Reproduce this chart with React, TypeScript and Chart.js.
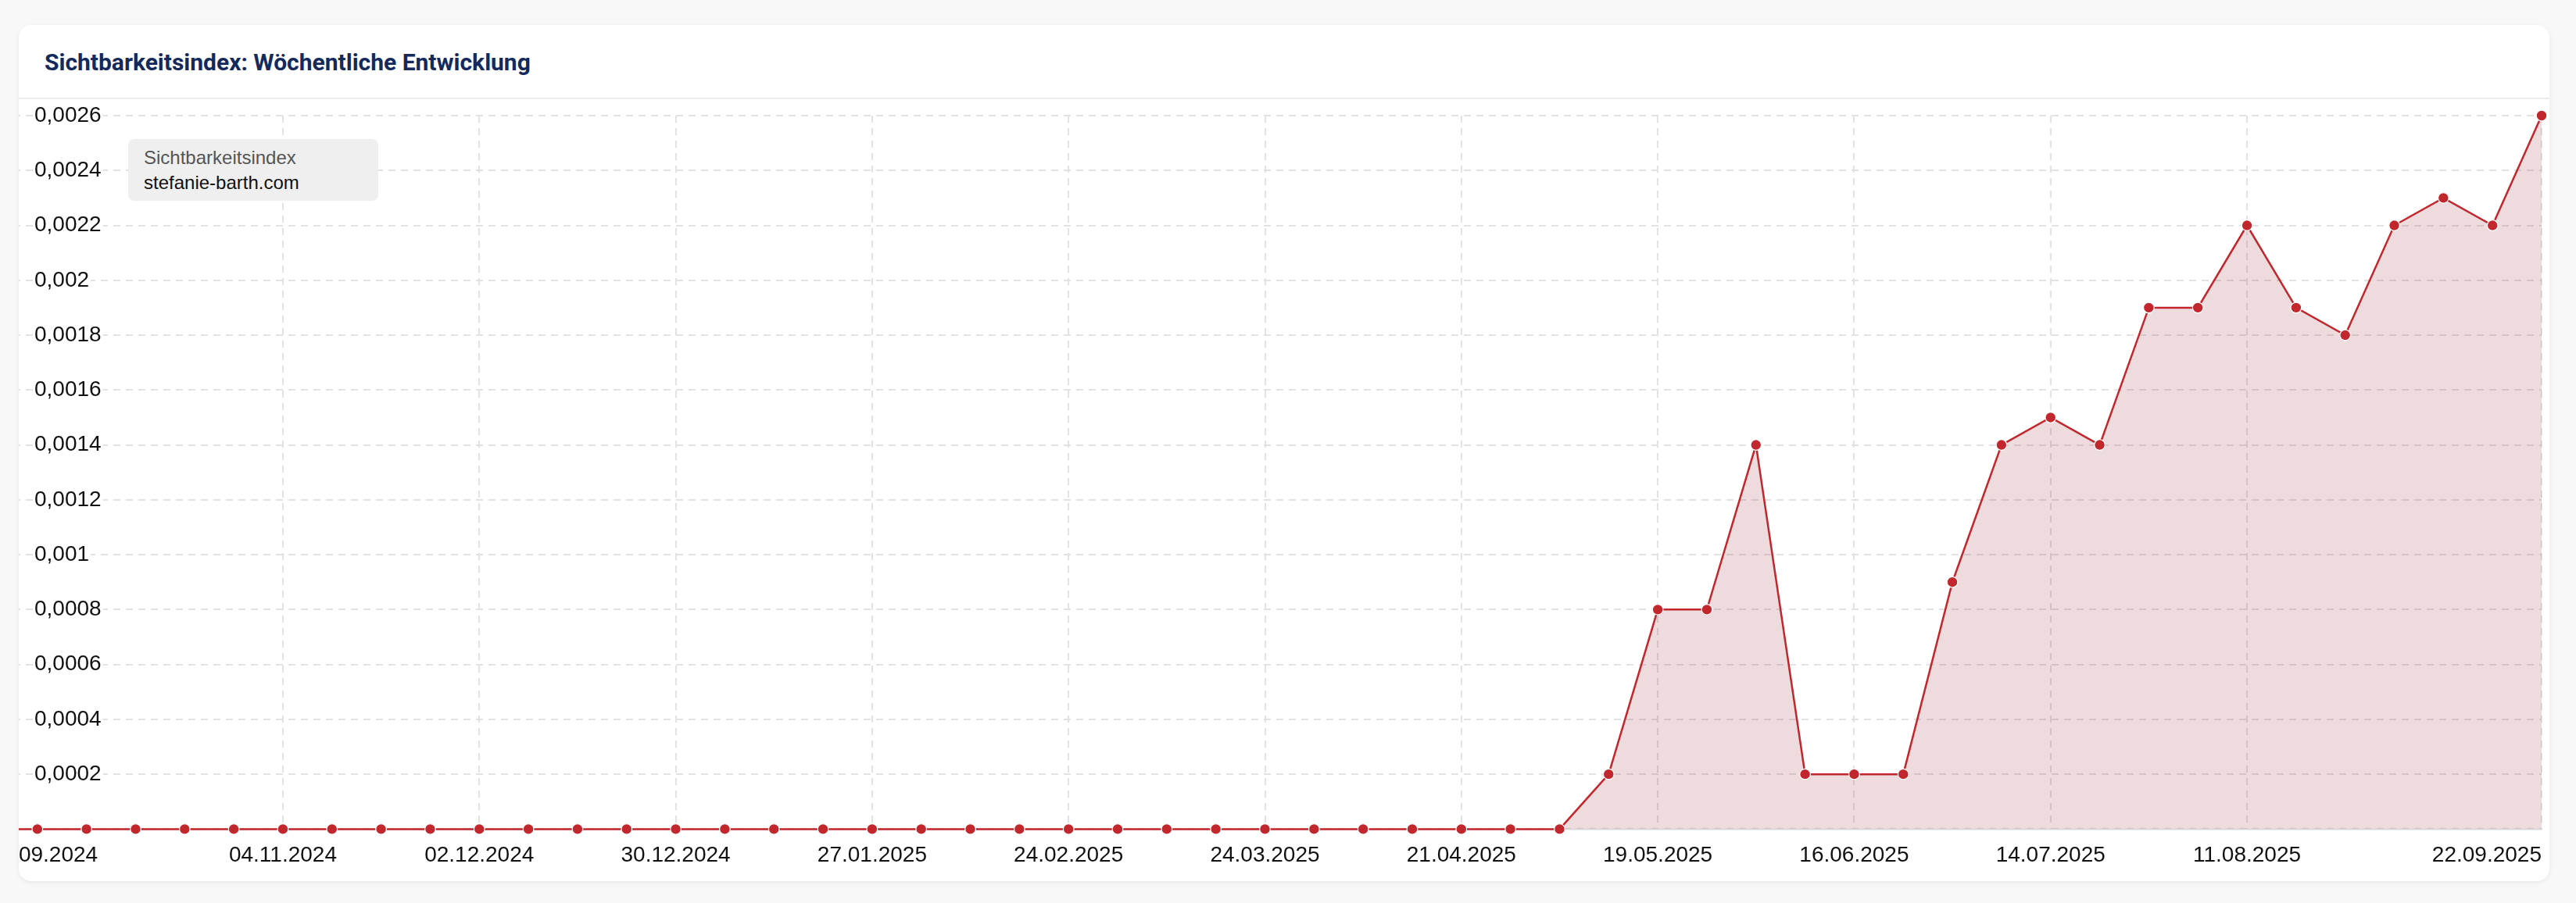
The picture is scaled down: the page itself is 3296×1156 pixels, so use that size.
import React, { useEffect, useRef } from 'react';
import { Chart, registerables } from 'chart.js';

Chart.register(...registerables);

// Weekly dates (Mondays). First and last entries lie just outside the visible card.
const WEEKS: string[] = [
  '23.09.2024', '30.09.2024', '07.10.2024', '14.10.2024', '21.10.2024', '28.10.2024',
  '04.11.2024', '11.11.2024', '18.11.2024', '25.11.2024', '02.12.2024', '09.12.2024',
  '16.12.2024', '23.12.2024', '30.12.2024', '06.01.2025', '13.01.2025', '20.01.2025',
  '27.01.2025', '03.02.2025', '10.02.2025', '17.02.2025', '24.02.2025', '03.03.2025',
  '10.03.2025', '17.03.2025', '24.03.2025', '31.03.2025', '07.04.2025', '14.04.2025',
  '21.04.2025', '28.04.2025', '05.05.2025', '12.05.2025', '19.05.2025', '26.05.2025',
  '02.06.2025', '09.06.2025', '16.06.2025', '23.06.2025', '30.06.2025', '07.07.2025',
  '14.07.2025', '21.07.2025', '28.07.2025', '04.08.2025', '11.08.2025', '18.08.2025',
  '25.08.2025', '01.09.2025', '08.09.2025', '15.09.2025', '22.09.2025', '29.09.2025',
];

const VISIBILITY: number[] = [
  0, 0, 0, 0, 0, 0,
  0, 0, 0, 0, 0, 0,
  0, 0, 0, 0, 0, 0,
  0, 0, 0, 0, 0, 0,
  0, 0, 0, 0, 0, 0,
  0, 0, 0, 0.0002, 0.0008, 0.0008,
  0.0014, 0.0002, 0.0002, 0.0002, 0.0009, 0.0014,
  0.0015, 0.0014, 0.0019, 0.0019, 0.0022, 0.0019,
  0.0018, 0.0022, 0.0023, 0.0022, 0.0026, 0.0026,
];

const SHOWN_LABELS: string[] = [
  '23.09.2024', '04.11.2024', '02.12.2024', '30.12.2024', '27.01.2025', '24.02.2025',
  '24.03.2025', '21.04.2025', '19.05.2025', '16.06.2025', '14.07.2025', '11.08.2025',
  '22.09.2025',
];
const LAST_LABEL = '22.09.2025';

const Y_MIN = 0;
const Y_MAX = 0.0026;
const Y_STEP = 0.0002;

const TITLE = 'Sichtbarkeitsindex: Wöchentliche Entwicklung';
const LEGEND_TITLE = 'Sichtbarkeitsindex';
const DOMAIN = 'stefanie-barth.com';

const RED = '#c1272d';
const FILL = 'rgba(140, 30, 45, 0.16)';
const GRID = '#e2e2e2';
const AXIS_FONT = '"Liberation Sans", Arial, Helvetica, sans-serif';

export default function App() {
  const canvasRef = useRef<HTMLCanvasElement | null>(null);

  useEffect(() => {
    const canvas = canvasRef.current;
    if (!canvas) return;
    const shown = new Set(SHOWN_LABELS);
    const chart = new Chart(canvas, {
      type: 'line',
      data: {
        labels: WEEKS,
        datasets: [
          {
            label: DOMAIN,
            data: VISIBILITY,
            borderColor: RED,
            borderWidth: 2.5,
            backgroundColor: FILL,
            fill: 'origin',
            tension: 0,
            pointRadius: 6.8,
            pointHoverRadius: 6.8,
            pointBackgroundColor: RED,
            pointBorderColor: '#ffffff',
            pointBorderWidth: 1.2,
            clip: false,
          } as any,
        ],
      },
      options: {
        responsive: false,
        animation: false,
        events: [],
        layout: { padding: { top: 20, right: 10, bottom: 0, left: 0 } },
        plugins: { legend: { display: false }, tooltip: { enabled: false } },
        scales: {
          x: {
            type: 'category',
            max: LAST_LABEL,
            grid: {
              color: (ctx: any) => {
                const l = WEEKS[ctx.index];
                return ctx.index > 0 && shown.has(l) ? GRID : 'rgba(0,0,0,0)';
              },
              lineWidth: 2,
              drawTicks: false,
            },
            border: { display: true, color: '#dadada', width: 1.5, dash: [9, 7] },
            ticks: {
              autoSkip: false,
              maxRotation: 0,
              minRotation: 0,
              align: 'inner',
              padding: 17,
              color: '#111111',
              font: { family: AXIS_FONT, size: 28 },
              callback: (value: any) => {
                const l = WEEKS[value as number];
                return shown.has(l) ? l : '';
              },
            },
            afterFit: (s: any) => {
              s.paddingLeft = 0;
              s.paddingRight = 0;
            },
          } as any,
          y: {
            min: Y_MIN,
            max: Y_MAX,
            position: 'left',
            grid: { color: GRID, lineWidth: 2, drawTicks: false },
            border: { display: false, dash: [9, 7] },
            ticks: {
              stepSize: Y_STEP,
              mirror: true,
              padding: 59,
              color: '#111111',
              font: { family: AXIS_FONT, size: 28 },
              showLabelBackdrop: (c: any) => !!c.tick && c.tick.value !== 0,
              backdropColor: '#ffffff',
              backdropPadding: 2,
              callback: (v: any) => {
                const n = Number(v);
                if (n === 0) return '';
                return n.toFixed(4).replace(/0+$/, '').replace('.', ',');
              },
            },
            afterFit: (s: any) => {
              s.width = 117;
              s.paddingTop = 0;
              s.paddingBottom = 0;
            },
          } as any,
        },
      },
    });
    return () => chart.destroy();
  }, []);

  return (
    <div
      style={{
        position: 'absolute',
        left: 0,
        top: 0,
        width: 3296,
        height: 1156,
        background: '#f8f8f8',
        overflow: 'hidden',
      }}
    >
      <div
        style={{
          position: 'absolute',
          left: 24,
          top: 32,
          width: 3238,
          height: 1096,
          background: '#ffffff',
          borderRadius: 16,
          boxShadow: '0 2px 6px rgba(0,0,0,0.07)',
          overflow: 'hidden',
        }}
      >
        <div
          style={{
            position: 'absolute',
            left: 33,
            top: 33,
            fontFamily: 'Roboto, sans-serif',
            fontWeight: 700,
            fontSize: 30,
            lineHeight: '30px',
            color: '#14295c',
            whiteSpace: 'nowrap',
          }}
        >
          {TITLE}
        </div>
        <div
          style={{
            position: 'absolute',
            left: 0,
            top: 93,
            width: '100%',
            height: 2,
            background: '#ececec',
          }}
        />
        <canvas
          ref={canvasRef}
          width={3394}
          height={1001}
          style={{ position: 'absolute', left: -156, top: 96, width: 3394, height: 1001 }}
        />
        <div
          style={{
            position: 'absolute',
            left: 140,
            top: 146,
            width: 320,
            height: 79,
            boxSizing: 'border-box',
            padding: '8px 20px',
            background: '#efefef',
            borderRadius: 8,
            fontFamily: AXIS_FONT,
            fontSize: 24,
            lineHeight: '32px',
            zIndex: 2,
          }}
        >
          <div style={{ color: '#555555' }}>{LEGEND_TITLE}</div>
          <div style={{ color: '#111111' }}>{DOMAIN}</div>
        </div>
      </div>
    </div>
  );
}
